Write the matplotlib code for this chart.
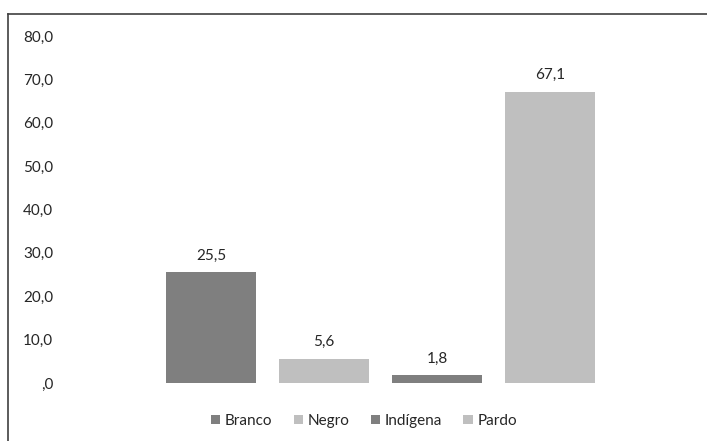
import matplotlib
matplotlib.use("Agg")
import matplotlib.pyplot as plt
from matplotlib.lines import Line2D
from matplotlib.patches import Patch

categories = ["Branco", "Negro", "Indígena", "Pardo"]
values = [25.5, 5.6, 1.8, 67.1]
colors = ["#7f7f7f", "#bfbfbf", "#7f7f7f", "#bfbfbf"]
yticks = [0, 10, 20, 30, 40, 50, 60, 70, 80]

plt.rcParams["font.family"] = ["Lato", "DejaVu Sans"]
FS = 11

W, H = 707, 441
fig = plt.figure(figsize=(W / 100, H / 100), dpi=100)

# plot area in pixel terms
left_px, right_px = 60, 700
zero_px, top_px = 383, 36
ax = fig.add_axes([left_px / W, (H - zero_px) / H,
                   (right_px - left_px) / W, (zero_px - top_px) / H])

step = 113.0
c0 = 211.0
ax.set_xlim((left_px - c0) / step, (right_px - c0) / step)
ax.set_ylim(0, 80)

x = list(range(len(categories)))
bars = ax.bar(x, values, width=0.79, color=colors, edgecolor="none")

for xi, v in zip(x, values):
    ax.annotate(f"{v:.1f}".replace(".", ","), (xi, v), xytext=(0, 7),
                textcoords="offset points", ha="center", va="bottom",
                fontsize=FS, color="#262626")

ax.set_yticks(yticks)
ax.set_yticklabels([(f"{t:.1f}".replace(".", ",") if t else ",0") for t in yticks])
ax.tick_params(axis="y", length=0, pad=5, labelsize=FS, labelcolor="#262626")
ax.set_xticks([])
for s in ax.spines.values():
    s.set_visible(False)

handles = [Patch(facecolor=c, edgecolor="none") for c in colors]
fig.legend(handles, categories, loc="center", bbox_to_anchor=(364 / W, (H - 421) / H),
           ncol=4, frameon=False, fontsize=FS, handlelength=0.6, handleheight=0.6,
           handletextpad=0.3, columnspacing=1.4, labelcolor="#262626")

# outer chart border (left and top edges)
fig.add_artist(Line2D([8 / W, 8 / W], [0, (H - 14) / H], transform=fig.transFigure,
                      color="#404040", lw=1.2))
fig.add_artist(Line2D([8 / W, 1], [(H - 14) / H, (H - 14) / H], transform=fig.transFigure,
                      color="#404040", lw=1.2))

fig.savefig("out.png", dpi=100)
